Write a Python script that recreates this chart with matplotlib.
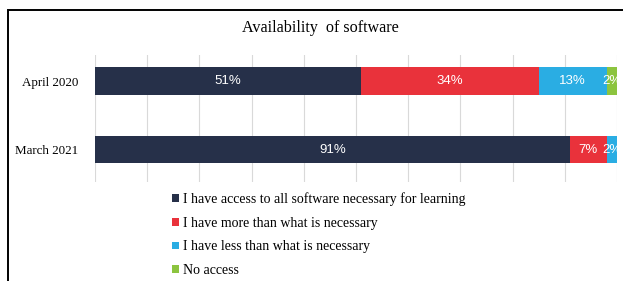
import matplotlib
matplotlib.use("Agg")
import matplotlib.pyplot as plt
from matplotlib.patches import Rectangle
import numpy as np

categories = ["April 2020", "March 2021"]
series_names = [
    "I have access to all software necessary for learning",
    "I have more than what is necessary",
    "I have less than what is necessary",
    "No access",
]
values = {
    "I have access to all software necessary for learning": [51, 91],
    "I have more than what is necessary": [34, 7],
    "I have less than what is necessary": [13, 2],
    "No access": [2, 0],
}
colors = ["#263049", "#E9323B", "#2AADE3", "#8CC43F"]

fig = plt.figure(figsize=(6.23, 2.81), dpi=100)
ax = fig.add_axes([95/623, 1-182/281, (617-95)/623, (182-55)/281])

y = np.arange(len(categories))
left = np.zeros(len(categories))
handles = []
for name, c in zip(series_names, colors):
    v = np.array(values[name], dtype=float)
    b = ax.barh(y, v, left=left, height=0.4, color=c, edgecolor="none", zorder=2)
    handles.append(b)
    for yi, (l, w) in enumerate(zip(left, v)):
        if w > 0:
            ax.text(l + w/2, yi, f"{int(w)}%", ha="center", va="center",
                    color="white", fontsize=9.5, family="Liberation Sans", zorder=3)
    left += v

ax.set_xlim(0, 100)
ax.set_ylim(1.47, -0.38)
ax.set_xticks(np.arange(0, 101, 10))
ax.set_xticklabels([])
ax.tick_params(axis="x", length=0)
ax.tick_params(axis="y", length=0, pad=12)
ax.set_yticks(y)
ax.set_yticklabels(categories, family="Liberation Serif", fontsize=9.4)
ax.grid(axis="x", color="#d9d9d9", linewidth=0.8, zorder=0)
for s in ax.spines.values():
    s.set_visible(False)

fig.text(320/623, 1-28/281, "Availability  of software", ha="center", va="center",
         family="Liberation Serif", fontsize=11.6)

leg = fig.legend(handles, series_names, loc="upper left",
                 bbox_to_anchor=(172/623, 1-192/281), frameon=False,
                 prop={"family": "Liberation Serif", "size": 10},
                 handlelength=0.5, handleheight=0.5, handletextpad=0.3,
                 labelspacing=0.78, borderaxespad=0, borderpad=0)

fig.patches.append(Rectangle((8/623, -0.1), 1.2, 1-10/281+0.1, transform=fig.transFigure,
                             fill=False, edgecolor="black", linewidth=1.4, figure=fig))

fig.savefig("out.png", dpi=100)
